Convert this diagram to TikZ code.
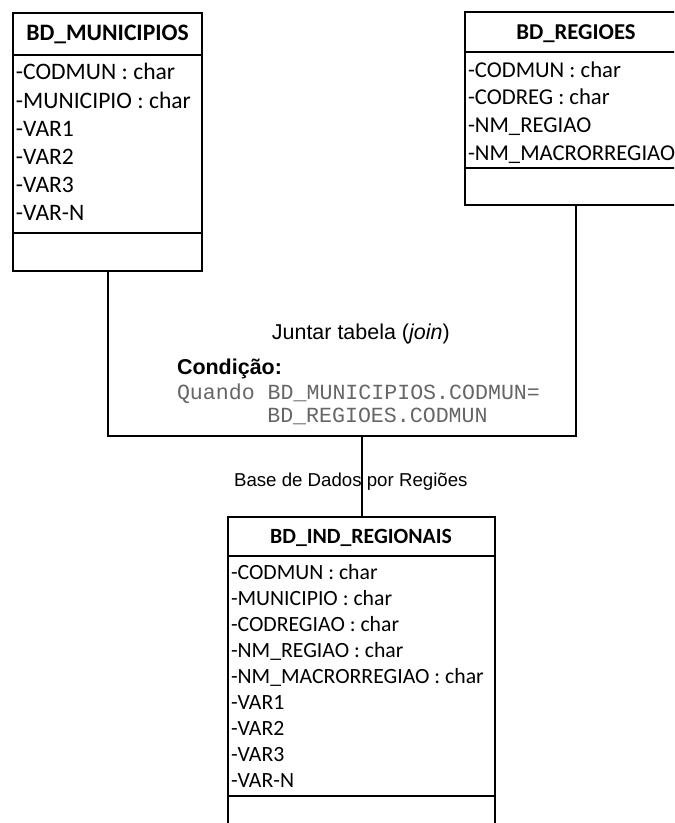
\documentclass[tikz,border=0pt]{standalone}
\usepackage{fontspec}
\setmainfont{Carlito}
\setmonofont{Liberation Mono}
\newfontfamily\arialfont{Liberation Sans}
\usetikzlibrary{fit}

\begin{document}
\begin{tikzpicture}[x=0.75pt,y=-0.75pt,line width=1.5pt,
  tabela/.style={draw,inner sep=0pt},
  cab/.style={inner sep=0pt,anchor=base},
  campo/.style={inner sep=0pt,anchor=base west},
  nota/.style={inner sep=0pt,font=\arialfont\fontsize{16.1}{19}\selectfont}]
  \clip (0,0) rectangle (674,823);
  % tabela de municipios
  \node[tabela,fit={(13,13) (202,271)}] (mun) {};
  \draw (13,55) -- (202,55) (13,233) -- (202,233);
  \node[cab,font=\fontsize{17.7}{21}\selectfont\bfseries] (munTit) at (107.5,40.7) {BD\_MUNICIPIOS};
  \foreach \t [count=\i] in {-CODMUN : char,-MUNICIPIO : char,-VAR1,-VAR2,-VAR3,-VAR-N}
    \node[campo,font=\fontsize{17.7}{21}\selectfont] (mun\i) at (15,{51.8+28.2*\i}) {\t};
  % tabela de regioes (cortada a direita)
  \node[tabela,fit={(465,12) (687,205)}] (reg) {};
  \draw (465,52) -- (687,52) (465,168) -- (687,168);
  \node[cab,font=\fontsize{17}{20.5}\selectfont\bfseries] (regTit) at (576,40) {BD\_REGIOES};
  \foreach \t [count=\i] in {-CODMUN : char,-CODREG : char,-NM\_REGIAO,-NM\_MACRORREGIAO}
    \node[campo,font=\fontsize{17}{20.5}\selectfont] (reg\i) at (467,{49.6+27.7*\i}) {\t};
  % tabela resultante
  \node[tabela,fit={(228,517) (495,860)}] (ind) {};
  \draw (228,556) -- (495,556) (228,796) -- (495,796);
  \node[cab,font=\fontsize{16.3}{19.5}\selectfont\bfseries] (indTit) at (361,543.3) {BD\_IND\_REGIONAIS};
  \foreach \t [count=\i] in {-CODMUN : char,-MUNICIPIO : char,-CODREGIAO : char,-NM\_REGIAO : char,
      -NM\_MACRORREGIAO : char,-VAR1,-VAR2,-VAR3,-VAR-N}
    \node[campo,font=\fontsize{16.3}{19.5}\selectfont] (ind\i) at (230,{552.9+26.1*\i}) {\t};
  % juncao
  \coordinate (juncao) at (362,436);
  \draw (mun.south) |- (juncao) -| (reg.south);
  \draw (juncao) -- (juncao |- ind.north);
  \node[nota,anchor=base] (juntar) at (360.8,339.3) {Juntar tabela (\textit{join})};
  \node[nota,anchor=base west,font=\arialfont\fontsize{16.1}{19}\selectfont\bfseries] (cond) at (176,374) {Condição:};
  \node[campo,text=black!60,font=\ttfamily\fontsize{16.2}{19}\selectfont] (quando) at (176,399.3) {Quando BD\_MUNICIPIOS.CODMUN=};
  \node[campo,text=black!60,font=\ttfamily\fontsize{16.2}{19}\selectfont] (quando2) at (266.3,422.7) {BD\_REGIOES.CODMUN};
  \node[nota,anchor=base,font=\arialfont\fontsize{14}{17}\selectfont] (rotulo) at (350.8,486.7) {Base de Dados por Regiões};
\end{tikzpicture}
\end{document}
